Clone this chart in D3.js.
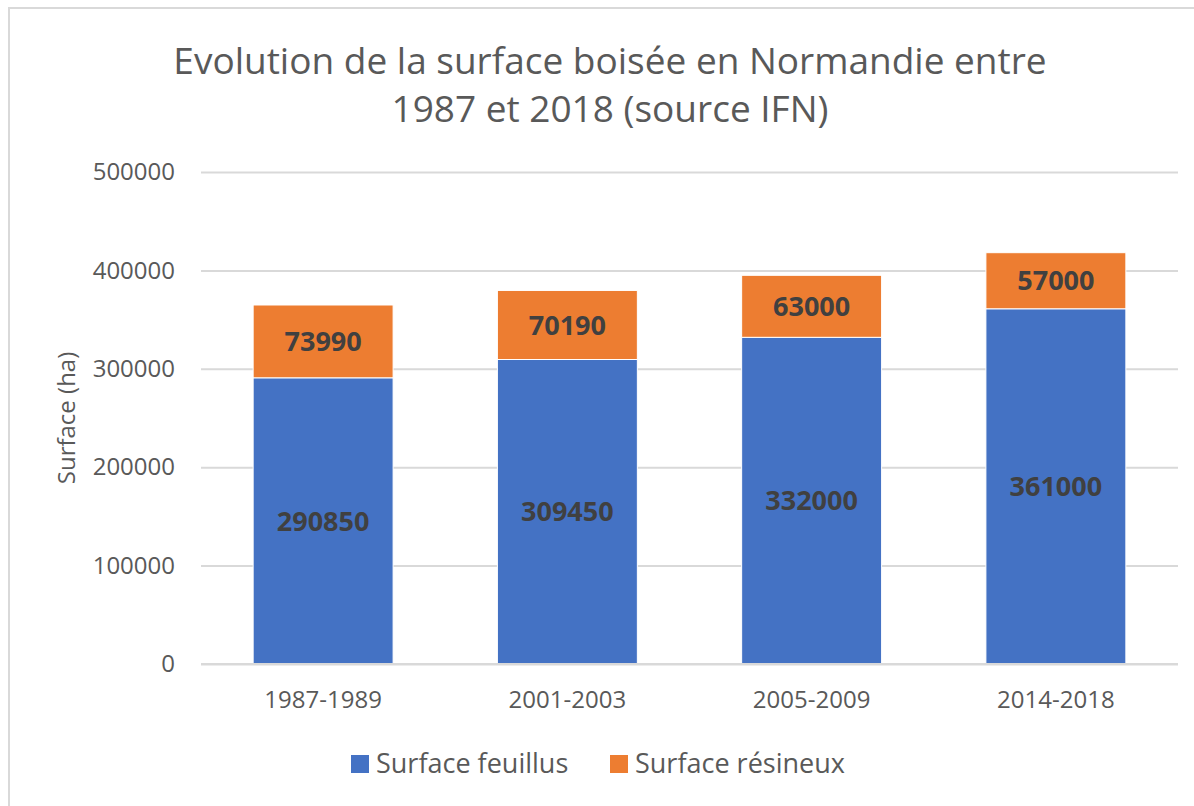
<!DOCTYPE html>
<html>
<head>
<meta charset="utf-8">
<style>
  body { margin: 0; background: #fff; }
  svg text { font-family: "Open Sans", sans-serif; }
</style>
<script src="https://d3js.org/d3.v7.min.js"></script>
</head>
<body>
<svg width="1194" height="806"></svg>
<script>
var periods = ["1987-1989", "2001-2003", "2005-2009", "2014-2018"];
var feuillus = [290850, 309450, 332000, 361000];
var resineux = [73990, 70190, 63000, 57000];
var seriesNames = ["Surface feuillus", "Surface résineux"];
var seriesColors = ["#4472c4", "#ed7d31"];
var yTicks = [0, 100000, 200000, 300000, 400000, 500000];

var rows = periods.map(function(p, i) {
  return { periode: p, feuillus: feuillus[i], resineux: resineux[i] };
});

var svg = d3.select("svg");

// chart frame
svg.append("rect")
  .attr("x", 9).attr("y", 8)
  .attr("width", 1200).attr("height", 820)
  .attr("fill", "#fff")
  .attr("stroke", "#d9d9d9")
  .attr("stroke-width", 2);

var margin = {top: 172, right: 16, bottom: 142, left: 201},
    width = 1194 - margin.left - margin.right,
    height = 806 - margin.top - margin.bottom,
    g = svg.append("g").attr("transform", "translate(" + margin.left + "," + margin.top + ")");

var x = d3.scaleBand()
  .domain(periods)
  .range([0, width])
  .paddingInner(0.427)
  .paddingOuter(0.2135);

var y = d3.scaleLinear()
  .domain([0, 500000])
  .range([height, 0]);

// title
var title = svg.append("text")
  .attr("text-anchor", "middle")
  .attr("fill", "#595959")
  .attr("font-size", 37);
title.append("tspan").attr("x", 610).attr("y", 74).text("Evolution de la surface boisée en Normandie entre");
title.append("tspan").attr("x", 610).attr("y", 122).text("1987 et 2018 (source IFN)");

// gridlines + y axis
var yAxis = g.append("g")
  .call(d3.axisLeft(y).tickValues(yTicks).tickSize(-width).tickPadding(26).tickFormat(d3.format("d")));
yAxis.select(".domain").remove();
yAxis.selectAll(".tick line").attr("stroke", "#d9d9d9").attr("stroke-width", 2);
yAxis.selectAll(".tick text")
  .attr("fill", "#595959")
  .attr("font-size", 24)
  .attr("font-family", "Open Sans, sans-serif");

// axis title
g.append("text")
  .attr("transform", "translate(-126," + (height / 2) + ") rotate(-90)")
  .attr("text-anchor", "middle")
  .attr("fill", "#595959")
  .attr("font-size", 24)
  .text("Surface (ha)");

// stacked bars
var stack = d3.stack().keys(["feuillus", "resineux"]);
var layers = stack(rows);

var layer = g.selectAll(".layer")
  .data(layers)
  .enter().append("g")
  .attr("class", "layer")
  .attr("fill", function(d, i) { return seriesColors[i]; });

layer.selectAll("rect")
  .data(function(d) { return d; })
  .enter().append("rect")
  .attr("x", function(d) { return x(d.data.periode); })
  .attr("y", function(d) { return y(d[1]); })
  .attr("width", x.bandwidth())
  .attr("height", function(d) { return y(d[0]) - y(d[1]); })
  .attr("stroke", "#fff")
  .attr("stroke-width", 1);

layer.selectAll("text")
  .data(function(d) { return d; })
  .enter().append("text")
  .attr("x", function(d) { return x(d.data.periode) + x.bandwidth() / 2; })
  .attr("y", function(d) { return (y(d[0]) + y(d[1])) / 2; })
  .attr("dy", "0.36em")
  .attr("text-anchor", "middle")
  .attr("fill", "#404040")
  .attr("font-size", 27)
  .attr("font-weight", "bold")
  .text(function(d) { return d[1] - d[0]; });

// x axis
g.append("line")
  .attr("x1", 0).attr("x2", width)
  .attr("y1", height).attr("y2", height)
  .attr("stroke", "#d9d9d9").attr("stroke-width", 2);

g.selectAll(".xlab")
  .data(periods)
  .enter().append("text")
  .attr("class", "xlab")
  .attr("x", function(d) { return x(d) + x.bandwidth() / 2; })
  .attr("y", height + 44)
  .attr("text-anchor", "middle")
  .attr("fill", "#595959")
  .attr("font-size", 24)
  .text(function(d) { return d; });

// legend
var legendX = [351, 610];
var legend = svg.selectAll(".legend")
  .data(seriesNames)
  .enter().append("g")
  .attr("class", "legend")
  .attr("transform", function(d, i) { return "translate(" + legendX[i] + ",755)"; });

legend.append("rect")
  .attr("width", 18).attr("height", 18)
  .attr("fill", function(d, i) { return seriesColors[i]; });

legend.append("text")
  .attr("x", 25).attr("y", 18)
  .attr("fill", "#595959")
  .attr("font-size", 27)
  .text(function(d) { return d; });
</script>
</body>
</html>
